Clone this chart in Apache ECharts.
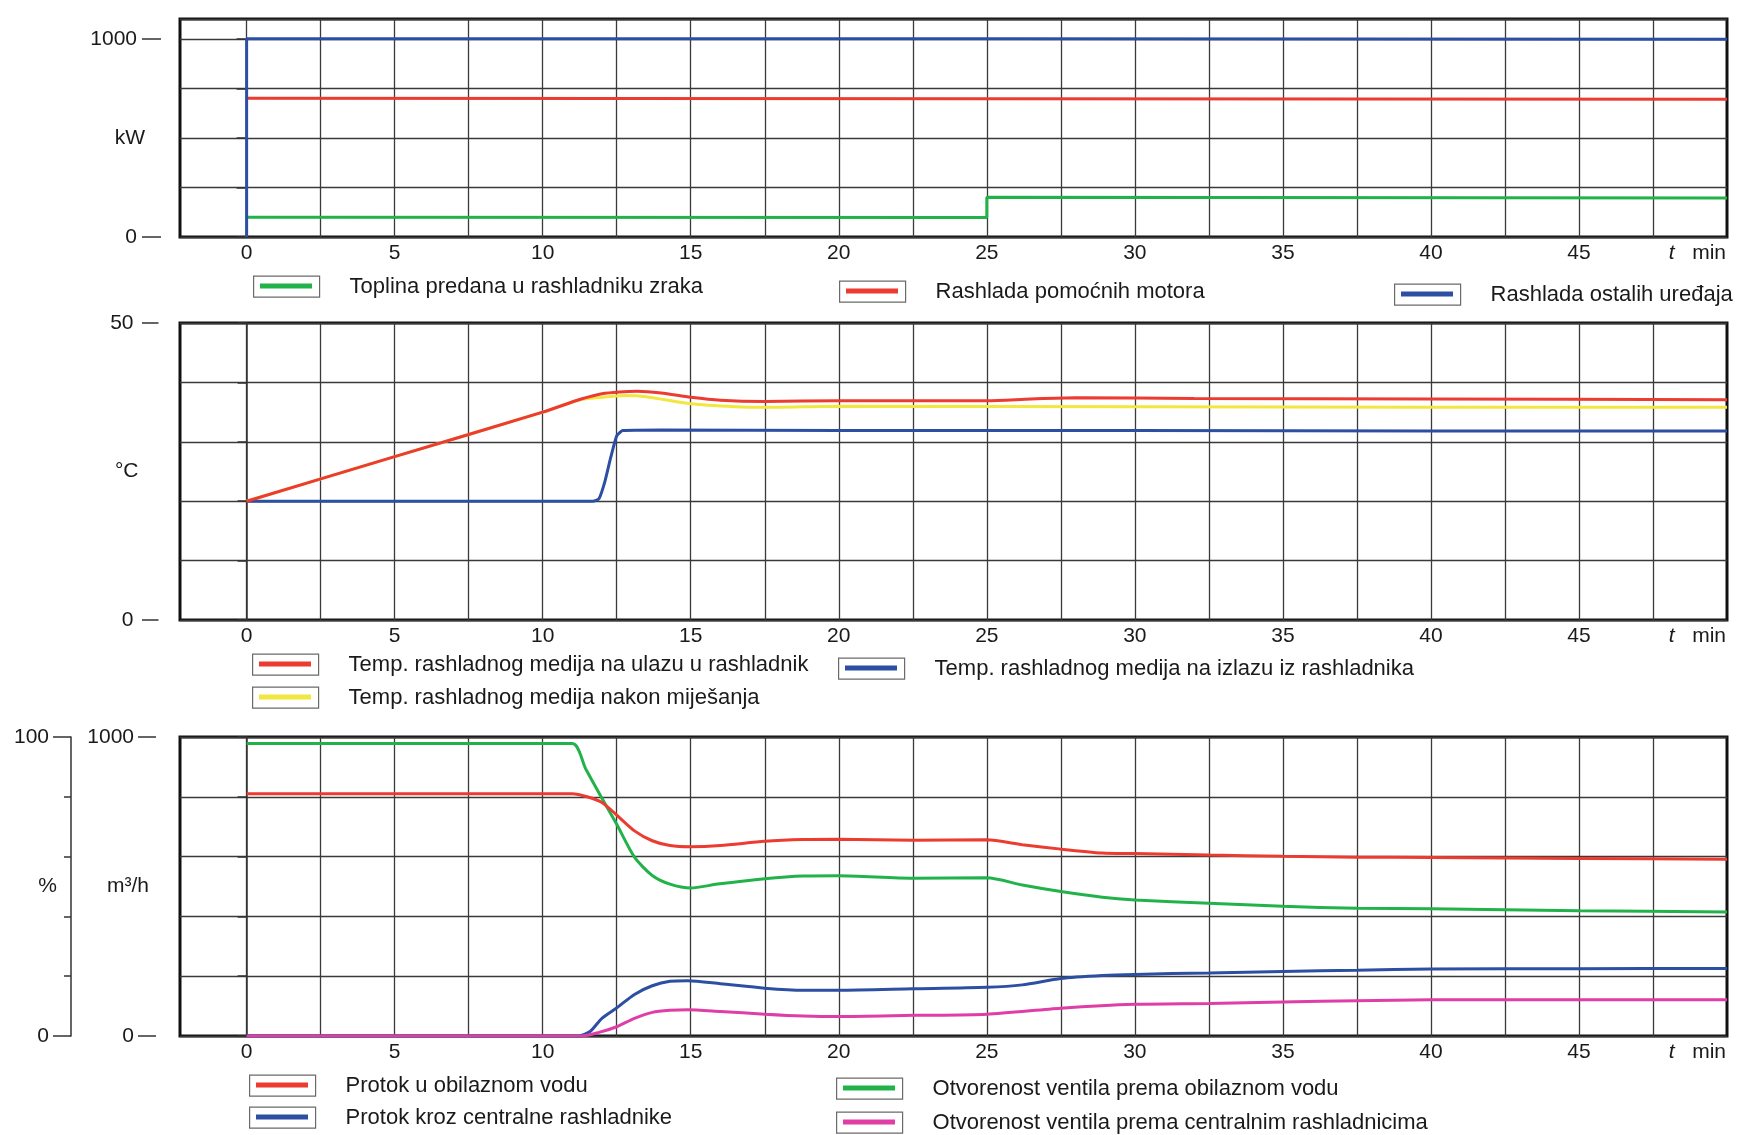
<!DOCTYPE html>
<html><head><meta charset="utf-8">
<script src="https://cdn.jsdelivr.net/npm/echarts@6.0.0/dist/echarts.min.js"></script>
<style>html,body{margin:0;padding:0;background:#fff}#c{width:1738px;height:1135px}</style>
</head><body><div id="c"></div>
<script>
// ---------------- data ----------------
const timeGridLines = [0,2.5,5,7.5,10,12.5,15,17.5,20,22.5,25,27.5,30,32.5,35,37.5,40,42.5,45,47.5];
const timeTickLabels = [0,5,10,15,20,25,30,35,40,45];
const timeUnitPos = 49;

// panel 1: kW
const heatAirCooler = [[0,100],[25,98],[25,200],[50,197]];
const auxEngineCooling = [[0,700],[25,698],[50,695]];
const otherConsumersCooling = [[0,0],[0,1000],[25,1000],[50,998]];

// panel 2: °C
const tempInlet = [[0,20],[5,27.5],[10,35],[11.3,37.2],[12,38.1],[12.6,38.4],[13.2,38.5],[14,38.2],[15,37.5],[16,37],[17.5,36.8],[20,36.9],[25,36.9],[26.5,37.2],[28,37.4],[32,37.3],[40,37.2],[50,37.1]];
const tempMixed = [[0,20],[5,27.5],[10,35],[11.2,37],[12,37.5],[12.8,37.8],[13.5,37.6],[15,36.4],[16.5,35.9],[17.5,35.8],[20,36],[30,35.9],[40,35.8],[50,35.8]];
const tempOutlet = [[0,20],[11.7,20],[11.9,20.4],[12.1,23.3],[12.3,27.4],[12.5,31],[12.7,31.9],[14,32],[20,31.9],[30,31.9],[40,31.8],[50,31.8]];

// panel 3: m3/h and %
const flowBypass = [[0,810],[11,810],[11.5,800],[12,781],[12.5,739],[13.1,686],[13.7,653],[14.3,637],[15,633],[16,637],[17.5,651],[18.8,657],[20,658],[22.5,655],[25,656],[26.2,640],[27.5,625],[28.9,612],[30,610],[32.5,605],[35,601],[37.5,598],[40,597],[45,594],[50,591]];
const flowCentral = [[0,0],[11.2,0],[11.6,15],[12,59],[12.5,94],[13.1,139],[13.7,168],[14.3,183],[14.9,185],[16,175],[17.5,160],[18.8,153],[20,153],[22.5,158],[25,163],[26.2,171],[27.5,192],[28.9,202],[30,206],[32.5,211],[35,216],[37.5,220],[40,224],[45,225],[50,226]];
const valveBypass = [[0,97.8],[11,97.8],[11.45,89.4],[12,79.5],[12.5,70.8],[13.1,59.8],[13.7,53.7],[14.3,50.8],[15,49.5],[15.9,50.8],[17.5,52.6],[18.8,53.5],[20,53.6],[22.5,52.8],[25,52.9],[26.2,50.5],[27.5,48.3],[28.9,46.4],[30,45.5],[32.5,44.4],[35,43.4],[37.5,42.7],[40,42.6],[45,41.9],[50,41.5]];
const valveCentral = [[0,0],[11.3,0],[11.9,1.2],[12.5,3.1],[13.1,5.9],[13.7,7.9],[14.3,8.6],[14.9,8.8],[16,8.2],[17.5,7.3],[18.8,6.7],[20,6.5],[22.5,6.9],[25,7.3],[27.5,9.3],[30,10.6],[32.5,10.9],[35,11.4],[37.5,11.8],[40,12.1],[45,12.1],[50,12.1]];

const N = {
  heat: 'Toplina predana u rashladniku zraka',
  aux: 'Rashlada pomoćnih motora',
  other: 'Rashlada ostalih uređaja',
  tIn: 'Temp. rashladnog medija na ulazu u rashladnik',
  tOut: 'Temp. rashladnog medija na izlazu iz rashladnika',
  tMix: 'Temp. rashladnog medija nakon miješanja',
  fBy: 'Protok u obilaznom vodu',
  fCe: 'Protok kroz centralne rashladnike',
  vBy: 'Otvorenost ventila prema obilaznom vodu',
  vCe: 'Otvorenost ventila prema centralnim rashladnicima'
};

// ---------------- style / layout ----------------
const FONT = "'Liberation Sans', Arial, Helvetica, sans-serif";
const INK = '#1a1a1a';
const GRIDC = '#3a3a3a';
const AXC = '#333';
const C = {red:'#ec3b30', blue:'#2c4fa3', green:'#22b24a', yellow:'#f2e640', magenta:'#e03ea6'};

const PL = 180, PR = 11;
const P1 = {top: 19, bottom: 237, max: 1100, axisMax: 1000};
const P2 = {top: 323, bottom: 620};
const P3 = {top: 737, bottom: 1036};
const p1AxisTop = P1.top + (P1.bottom - P1.top) * (P1.max - P1.axisMax) / P1.max;

function box(top, bottom, show) {
  return {left: PL, right: PR, top: top, height: bottom - top, show: show,
          borderColor: '#111', borderWidth: 3, backgroundColor: 'rgba(0,0,0,0)'};
}
const labelText = {fontSize: 21, color: INK, fontFamily: FONT};

function timeAxis(gridIndex, visible) {
  return {
    type: 'value', gridIndex: gridIndex, min: -2.25, max: 50, show: visible,
    axisLine: {show: false},
    axisTick: {show: false, customValues: timeGridLines},
    splitLine: {show: true, lineStyle: {color: GRIDC, width: 1.3}},
    axisLabel: Object.assign({
      customValues: timeTickLabels.concat([timeUnitPos]), margin: 6,
      formatter: v => v === timeUnitPos ? '{it|t}   min' : String(v),
      rich: {it: {fontStyle: 'italic', fontSize: 21, color: INK, fontFamily: FONT}}
    }, labelText)
  };
}

function frameAxis(gridIndex, max, interval, offset, tickLen, split) {
  return {
    type: 'value', gridIndex: gridIndex, min: 0, max: max, interval: interval,
    position: 'left', offset: offset,
    axisLine: {show: tickLen > 0, lineStyle: {color: AXC, width: 1.5}},
    axisTick: {show: tickLen > 0, length: tickLen, lineStyle: {color: AXC, width: 1.5}},
    axisLabel: {show: false},
    splitLine: {show: split, lineStyle: {color: GRIDC, width: 1.3}}
  };
}
function labelAxis(gridIndex, max, offset, tickLen, margin, name, nameGap) {
  return {
    type: 'value', gridIndex: gridIndex, min: 0, max: max, position: 'left', offset: offset,
    axisLine: {show: false},
    axisTick: {show: true, length: tickLen, customValues: [0, max], lineStyle: {color: AXC, width: 1.5}},
    axisLabel: Object.assign({customValues: [0, max], margin: margin, formatter: v => String(v)}, labelText),
    splitLine: {show: false},
    name: name, nameLocation: 'middle', nameRotate: 0, nameGap: nameGap, nameMoveOverlap: false,
    nameTextStyle: {fontSize: 21, color: INK, fontFamily: FONT}
  };
}

function line(name, data, color, xi, yi, smooth) {
  return {type: 'line', name: name, data: data, xAxisIndex: xi, yAxisIndex: yi,
          showSymbol: false, symbol: 'none', smooth: smooth,
          color: color, lineStyle: {color: color, width: 3}, animation: false, z: 3};
}

// legend entries: name, colour, icon-left, icon-centre-y
const legendItems = [
  [N.heat, C.green, 253, 286], [N.aux, C.red, 839, 291], [N.other, C.blue, 1394, 294],
  [N.tIn, C.red, 252, 664], [N.tOut, C.blue, 838, 668], [N.tMix, C.yellow, 252, 697],
  [N.fBy, C.red, 249, 1085], [N.fCe, C.blue, 249, 1117], [N.vBy, C.green, 836, 1088], [N.vCe, C.magenta, 836, 1122]
];
const legends = [];
legendItems.forEach(([name, color, left, cy]) => {
  const base = {left: left, top: cy - 10.5, padding: 0, itemWidth: 66, itemHeight: 21,
                selectedMode: false, orient: 'horizontal', data: [name]};
  legends.push(Object.assign({}, base, {
    icon: 'rect', itemStyle: {color: '#fff', borderColor: '#6a6a6a', borderWidth: 1.2},
    textStyle: {fontSize: 22, color: INK, fontFamily: FONT, padding: [0, 0, 0, 25], lineHeight: 21}
  }));
  legends.push(Object.assign({}, base, {
    z: 6, icon: 'path://M0,0M66,21M7,8H59V13H7Z',
    itemStyle: {color: color, borderWidth: 0}, formatter: () => ''
  }));
});

const option = {
  backgroundColor: '#fff',
  animation: false,
  grid: [box(P1.top, P1.bottom, true), box(p1AxisTop, P1.bottom, false), box(P2.top, P2.bottom, true), box(P3.top, P3.bottom, true)],
  xAxis: [timeAxis(0, true), timeAxis(1, false), timeAxis(2, true), timeAxis(3, true)],
  yAxis: [
    frameAxis(0, P1.max, 250, 0, 0, true),
    frameAxis(1, P1.axisMax, 250, 19, 10, false),
    labelAxis(1, P1.axisMax, 19, 19, 24, 'kW', 16),
    frameAxis(2, 50, 10, 21.5, 9, true),
    labelAxis(2, 50, 21.5, 16.5, 25, '°C', 20),
    frameAxis(3, 1000, 200, 24, 9, true),
    labelAxis(3, 1000, 24, 18, 22, 'm³/h', 7),
    frameAxis(3, 100, 20, 109, 7, false),
    labelAxis(3, 100, 109, 18, 22, '%', 14)
  ],
  legend: legends,
  series: [
    line(N.heat, heatAirCooler, C.green, 0, 0, false),
    line(N.aux, auxEngineCooling, C.red, 0, 0, false),
    line(N.other, otherConsumersCooling, C.blue, 0, 0, false),
    line(N.tMix, tempMixed, C.yellow, 2, 3, 0.25),
    line(N.tOut, tempOutlet, C.blue, 2, 3, 0.15),
    line(N.tIn, tempInlet, C.red, 2, 3, 0.25),
    line(N.vBy, valveBypass, C.green, 3, 7, 0.25),
    line(N.fBy, flowBypass, C.red, 3, 5, 0.25),
    line(N.fCe, flowCentral, C.blue, 3, 5, 0.25),
    line(N.vCe, valveCentral, C.magenta, 3, 7, 0.25)
  ]
};

const chart = echarts.init(document.getElementById('c'), null, {renderer: 'canvas'});
chart.setOption(option);
</script>
</body></html>
